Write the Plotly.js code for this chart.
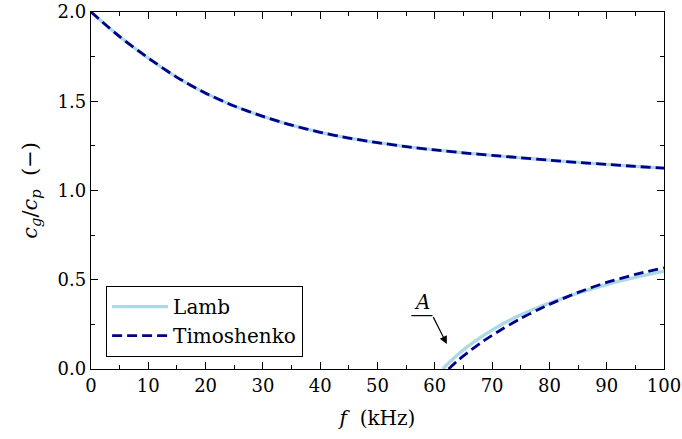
<!DOCTYPE html>
<html>
<head>
<meta charset="utf-8">
<script src="https://cdn.plot.ly/plotly-3.0.1.min.js"></script>
<style>
  html, body { margin: 0; padding: 0; background: #fff; }
  #chart { width: 682px; height: 439px; }
</style>
</head>
<body>
<div id="chart"></div>
<script>
// Frequency grid (kHz) for the fundamental branch
const freqUpper = [0, 5, 10, 15, 20, 25, 30, 35, 40, 45, 50, 55, 60, 65, 70, 75, 80, 85, 90, 95, 100];
// Group / phase velocity ratio, fundamental branch
const lambUpper = [2.0, 1.862, 1.742, 1.634, 1.545, 1.473, 1.415, 1.366, 1.326, 1.294, 1.268, 1.246, 1.227, 1.211, 1.197, 1.183, 1.170, 1.157, 1.146, 1.135, 1.125];
const timoUpper = [2.0, 1.862, 1.742, 1.634, 1.545, 1.473, 1.415, 1.366, 1.326, 1.294, 1.268, 1.246, 1.227, 1.211, 1.197, 1.183, 1.170, 1.157, 1.146, 1.135, 1.125];

// Second branch, starting at its cut-off frequency
const freqLambLower = [61.4, 62, 63, 64, 65, 66, 68, 70, 72, 75, 78, 80, 85, 90, 95, 100];
const lambLower = [0, 0.020, 0.051, 0.080, 0.107, 0.132, 0.177, 0.218, 0.255, 0.304, 0.345, 0.369, 0.425, 0.473, 0.513, 0.548];
const freqTimoLower = [62.4, 63, 64, 65, 66, 68, 70, 72, 75, 78, 80, 85, 90, 95, 100];
const timoLower = [0, 0.018, 0.047, 0.074, 0.099, 0.146, 0.189, 0.228, 0.283, 0.332, 0.362, 0.429, 0.485, 0.530, 0.567];

const seriesNames = ['Lamb', 'Timoshenko'];
const xTickVals = [0, 10, 20, 30, 40, 50, 60, 70, 80, 90, 100];
const yTickVals = [0.0, 0.5, 1.0, 1.5, 2.0];
const yTickText = ['0.0', '0.5', '1.0', '1.5', '2.0'];
const xTitle = '<i>f</i>  (kHz)';
const yTitle = '<i>c<sub>g</sub></i>/<i>c<sub>p</sub></i>  (−)';

const FONT = 'DejaVu Serif';
const FS = 18;      // tick labels
const FS_TEXT = 20; // titles, legend, label
const lambLine = { color: '#add8e6', width: 3.3, shape: 'spline', smoothing: 0.6 };
const timoLine = { color: '#00008b', width: 2.8, dash: '10px,5px', shape: 'spline', smoothing: 0.6 };

const traces = [
  { x: freqUpper, y: lambUpper, mode: 'lines', name: seriesNames[0], legendgroup: 'lamb', line: lambLine },
  { x: freqLambLower, y: lambLower, mode: 'lines', name: seriesNames[0], legendgroup: 'lamb', showlegend: false, line: lambLine },
  { x: freqUpper, y: timoUpper, mode: 'lines', name: seriesNames[1], legendgroup: 'timo', line: timoLine },
  { x: freqTimoLower, y: timoLower, mode: 'lines', name: seriesNames[1], legendgroup: 'timo', showlegend: false, line: timoLine }
];

const axisCommon = {
  showgrid: false,
  zeroline: false,
  showline: true,
  linecolor: '#000',
  linewidth: 1.2,
  mirror: 'ticks',
  ticks: 'inside',
  ticklen: 7,
  tickwidth: 1,
  tickcolor: '#000',
  tickfont: { family: FONT, size: FS, color: '#000' }
};

const layout = {
  width: 682,
  height: 439,
  margin: { l: 91, r: 18, t: 12, b: 70 },
  paper_bgcolor: '#fff',
  plot_bgcolor: '#fff',
  font: { family: FONT, size: FS, color: '#000' },
  showlegend: true,
  xaxis: Object.assign({}, axisCommon, {
    range: [0, 100],
    tickvals: xTickVals,
    minor: { dtick: 5, ticklen: 4, tickwidth: 1, tickcolor: '#000', ticks: 'inside' },
    title: { text: xTitle, font: { family: FONT, size: FS_TEXT, color: '#000' }, standoff: 16 }
  }),
  yaxis: Object.assign({}, axisCommon, {
    range: [0, 2.0],
    tickvals: yTickVals,
    ticktext: yTickText,
    minor: { dtick: 0.25, ticklen: 4, tickwidth: 1, tickcolor: '#000', ticks: 'inside' }
  }),
  legend: {
    x: 0.026, y: 0.034, xanchor: 'left', yanchor: 'bottom',
    bgcolor: '#fff', bordercolor: '#000', borderwidth: 1.2,
    font: { family: FONT, size: FS_TEXT, color: '#000' },
    itemwidth: 56,
    tracegroupgap: 0
  },
  shapes: [
    // leader line under the "A" label
    { type: 'line', xref: 'x', yref: 'y', x0: 55.9, x1: 59.6, y0: 0.299, y1: 0.299, line: { color: '#000', width: 1.2 } }
  ],
  annotations: [
    // y-axis title, centred on the plot height
    { xref: 'paper', yref: 'paper', x: -0.106, y: 0.5, xanchor: 'center', yanchor: 'middle',
      text: yTitle, textangle: -90, showarrow: false, font: { family: FONT, size: 21, color: '#000' } },
    { x: 62.1, y: 0.14, xref: 'x', yref: 'y', ax: 59.6, ay: 0.299, axref: 'x', ayref: 'y',
      text: '', showarrow: true, arrowhead: 2, arrowsize: 1.3, arrowwidth: 1.2, arrowcolor: '#000' },
    { x: 57.7, y: 0.299, xref: 'x', yref: 'y', text: '<i>A</i>', showarrow: false,
      yanchor: 'bottom', yshift: 0, font: { family: FONT, size: FS_TEXT, color: '#000' } }
  ]
};

Plotly.newPlot('chart', traces, layout, { displayModeBar: false, staticPlot: true });
</script>
</body>
</html>
